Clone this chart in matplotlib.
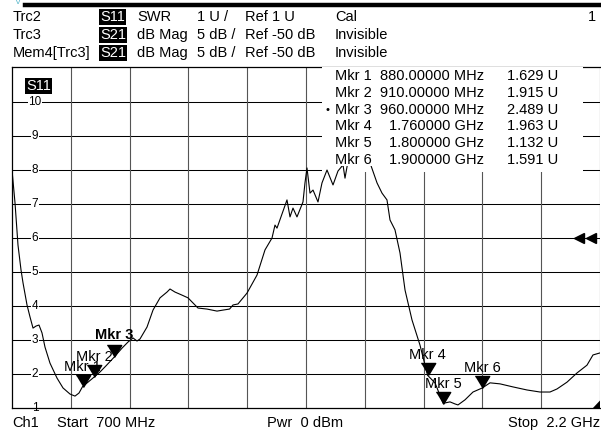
import matplotlib
matplotlib.use("Agg")
import matplotlib.pyplot as plt
import matplotlib.transforms as mtransforms
from matplotlib.patches import Rectangle, Polygon

W, H = 601, 433
DPI = 100

# S11 SWR trace (MHz, U)
freq_mhz = [700.0, 707.7, 715.3, 723.0, 728.1, 738.3, 745.9, 753.6, 761.2, 768.9,
            776.5, 784.2, 796.9, 814.8, 830.1, 848.0, 860.7, 870.9, 880.0, 893.9,
            910.0, 924.5, 939.8, 960.0, 980.6, 995.9, 1008.7, 1018.9, 1026.5, 1044.4,
            1059.7, 1077.6, 1095.4, 1103.1, 1115.8, 1133.7, 1149.0, 1161.7, 1174.5, 1197.4,
            1223.0, 1238.3, 1255.0, 1263.8, 1276.5, 1299.5, 1325.0, 1345.4, 1363.3, 1370.9,
            1376.0, 1401.5, 1409.2, 1416.8, 1427.0, 1442.3, 1447.4, 1452.5, 1460.2, 1467.9,
            1480.6, 1490.8, 1503.6, 1518.9, 1531.6, 1544.4, 1549.5, 1562.2, 1577.6, 1592.9,
            1613.3, 1631.2, 1643.9, 1656.6, 1664.3, 1677.0, 1689.8, 1702.6, 1720.4, 1740.8,
            1760.0, 1779.1, 1800.0, 1805.0, 1817.3, 1830.0, 1837.7, 1855.6, 1876.0, 1900.0,
            1919.4, 1944.9, 1978.1, 2013.8, 2047.0, 2072.4, 2090.3, 2115.8, 2141.3, 2166.8,
            2182.1, 2200.0]
swr = [8.00, 7.03, 5.79, 5.06, 4.68, 4.03, 3.68, 3.35, 3.41, 3.44,
       3.21, 2.79, 2.32, 1.88, 1.59, 1.41, 1.35, 1.44, 1.629, 1.76,
       1.915, 2.06, 2.24, 2.489, 2.76, 2.94, 3.06, 2.97, 3.03, 3.38,
       3.88, 4.24, 4.41, 4.50, 4.41, 4.32, 4.24, 4.09, 3.94, 3.91,
       3.85, 3.88, 3.91, 4.03, 4.06, 4.38, 4.91, 5.65, 6.00, 6.38,
       6.29, 7.12, 6.62, 6.88, 6.62, 7.06, 7.62, 8.06, 7.32, 7.41,
       7.06, 7.62, 8.00, 7.56, 7.97, 8.15, 7.76, 8.59, 8.88, 8.59,
       8.21, 7.62, 7.32, 7.12, 6.53, 6.24, 5.56, 4.47, 3.59, 2.85,
       1.963, 1.74, 1.132, 1.15, 1.18, 1.12, 1.09, 1.24, 1.47, 1.591,
       1.74, 1.71, 1.62, 1.53, 1.47, 1.47, 1.56, 1.76, 2.03, 2.26,
       2.56, 2.62]

mkr_freq = [880, 910, 960, 1760, 1800, 1900]
mkr_val = [1.629, 1.915, 2.489, 1.963, 1.132, 1.591]
active_mkr = 3

x_ticks = [700, 850, 1000, 1150, 1300, 1450, 1600, 1750, 1900, 2050, 2200]
y_ticks = [1, 2, 3, 4, 5, 6, 7, 8, 9, 10]
ref_pos = 6

header_rows = [
    ["Trc2", "S11", "SWR", "1 U /", "Ref 1 U", "Cal"],
    ["Trc3", "S21", "dB Mag", "5 dB /", "Ref -50 dB", "Invisible"],
    ["Mem4[Trc3]", "S21", "dB Mag", "5 dB /", "Ref -50 dB", "Invisible"],
]

plt.rcParams['font.family'] = ['Liberation Sans', 'DejaVu Sans']
FS = 10.5


def px(x, y):
    return x / W, 1 - y / H


fig = plt.figure(figsize=(W / DPI, H / DPI), dpi=DPI)
left, top, right, bottom = 12, 67, 600, 408
ax = fig.add_axes([left / W, 1 - bottom / H, (right - left) / W, (bottom - top) / H])
ax.set_xlim(700, 2200)
ax.set_ylim(1, 1 + (bottom - top) / 34)
ax.set_xticks([])
ax.set_yticks([])
for s in ['left', 'top', 'bottom']:
    ax.spines[s].set_linewidth(0.9)
    ax.spines[s].set_color('black')
ax.spines['right'].set_visible(False)

for yv in y_ticks[1:]:
    ax.axhline(yv, color='black', lw=0.75, zorder=1)
for xv in x_ticks[1:]:
    ax.axvline(xv, color='#555555', lw=0.8, zorder=1)

# y labels sitting on the grid lines
blend = mtransforms.blended_transform_factory(ax.transAxes, ax.transData)
for yv in y_ticks:
    ax.text((35 - left) / (right - left), yv, str(yv), transform=blend, fontsize=8.5,
            ha='center', va='center', zorder=1.6,
            bbox=dict(facecolor='white', edgecolor='none', pad=0.6))

# marker table area hides the grid, text rows hide the trace top
tx0, tx1 = (322 - left) / (right - left), (583 - left) / (right - left)
ax.add_patch(Rectangle((tx0, 1 - (172 - top) / (bottom - top)), tx1 - tx0, (172 - top) / (bottom - top),
                       transform=ax.transAxes, facecolor='white', edgecolor='none', zorder=1.5))
ax.add_patch(Rectangle((tx0, 1 - (166 - top) / (bottom - top)), tx1 - tx0, (166 - top) / (bottom - top),
                       transform=ax.transAxes, facecolor='white', edgecolor='none', zorder=3))

ax.plot(freq_mhz, swr, color='black', lw=0.8, zorder=2)

tri = [(-0.6, 1.0), (0.6, 1.0), (0.0, 0.0)]
for i, (f, v) in enumerate(zip(mkr_freq, mkr_val)):
    n = i + 1
    bold = n == active_mkr
    ax.annotate(f"Mkr {n}", (f, v), xytext=(0, 16 if bold else 14.4), textcoords='offset points',
                ha='center', va='center', fontsize=FS, fontweight='bold' if bold else 'normal',
                zorder=4 + 2 * i)
    ax.plot([f], [v], marker=tri, ms=17.3, color='black', ls='none', zorder=5 + 2 * i)

# reference position arrows on the right edge
ax.plot([0.965, 0.985], [ref_pos, ref_pos], transform=blend, marker='<', ms=7,
        color='black', ls='none', clip_on=False, zorder=4)
ax.add_patch(Polygon([(1.0, 0.0), (0.988, 0.0), (1.0, 0.022)], closed=True, transform=ax.transAxes,
                     facecolor='black', edgecolor='none', clip_on=False, zorder=4))

# S11 tag in the diagram
fig.text(*px(26, 86), "S11", fontsize=FS, color='white', va='center', ha='left',
         bbox=dict(facecolor='black', edgecolor='none', pad=0.8))

# marker table
for i, (f, v) in enumerate(zip(mkr_freq, mkr_val)):
    y = 76 + 16.8 * i
    if f < 1000:
        fs = f"{f:.5f} MHz"
    else:
        fs = f"{f / 1000:.6f} GHz"
    if i + 1 == active_mkr:
        fig.text(*px(326, y), "\u2022", fontsize=8, va='center', ha='left')
    fig.text(*px(335, y), f"Mkr {i + 1}", fontsize=FS, va='center', ha='left', zorder=10)
    fig.text(*px(484, y), fs, fontsize=FS, va='center', ha='right', zorder=10)
    fig.text(*px(558, y), f"{v:.3f} U", fontsize=FS, va='center', ha='right', zorder=10)

# header
cols = [13, 100, 137, 197, 245, 335]
for r, row in enumerate(header_rows):
    y = 17 + 18 * r
    for c, (xc, txt) in enumerate(zip(cols, row)):
        if c == 1:
            fig.text(*px(xc, y), txt, fontsize=FS, color='white', va='center', ha='left',
                     bbox=dict(facecolor='black', edgecolor='none', pad=0.8))
        else:
            fig.text(*px(xc, y), txt, fontsize=FS, va='center', ha='left')
fig.text(*px(596, 17), "1", fontsize=FS, va='center', ha='right')

# top bar
fig.add_artist(plt.Line2D([25 / W, 600 / W], [1 - 5 / H, 1 - 5 / H], color='black', lw=3.2))
fig.text(*px(16, 3), "v", fontsize=6, color='#4fb3c8', va='center', ha='left')

# footer
fig.text(*px(12, 423), "Ch1", fontsize=FS, va='center', ha='left')
fig.text(*px(57, 423), "Start  700 MHz", fontsize=FS, va='center', ha='left')
fig.text(*px(267, 423), "Pwr  0 dBm", fontsize=FS, va='center', ha='left')
fig.text(*px(600, 423), "Stop  2.2 GHz", fontsize=FS, va='center', ha='right')

fig.savefig("out.png", dpi=DPI)
